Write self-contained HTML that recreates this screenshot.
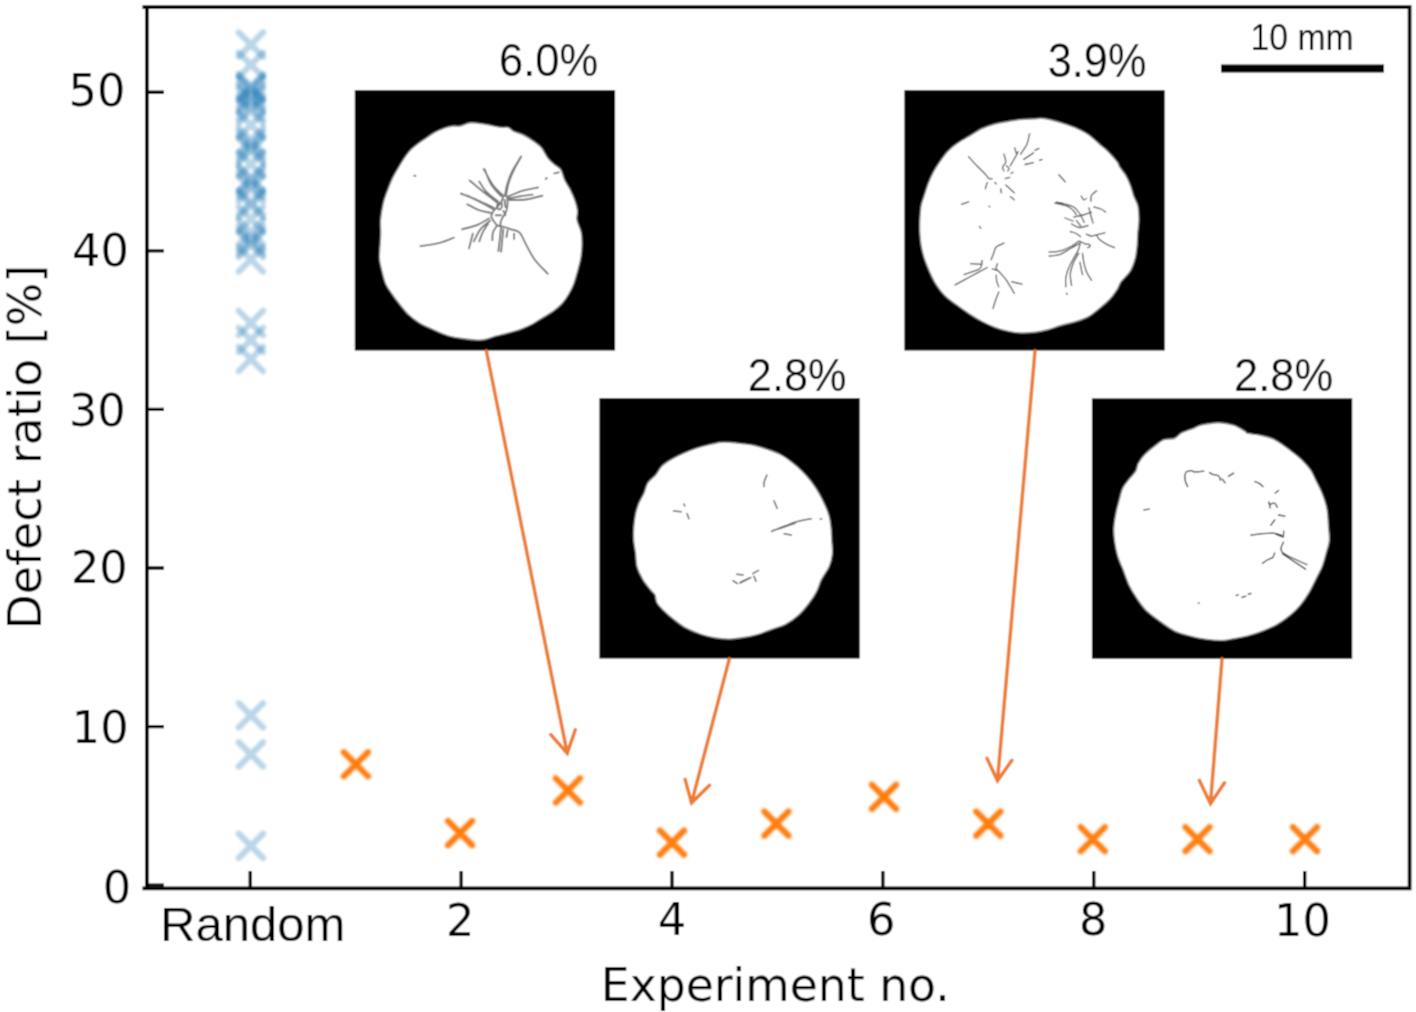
<!DOCTYPE html>
<html><head><meta charset="utf-8"><title>Defect ratio</title>
<style>
html,body{margin:0;padding:0;background:#fff;}
body{width:1416px;height:1012px;overflow:hidden;}
svg{display:block;}
.dv{font-family:"DejaVu Sans",sans-serif;fill:#000;}
.ls{font-family:"Liberation Sans",Arial,sans-serif;fill:#000;}
</style></head><body>
<svg width="1416" height="1012" viewBox="0 0 1416 1012">
<defs><filter id="gb" x="0" y="0" width="1416" height="1012" filterUnits="userSpaceOnUse"><feConvolveMatrix order="3" kernelMatrix="1 2 1 2 6 2 1 2 1" divisor="18" edgeMode="duplicate"/></filter></defs>
<g filter="url(#gb)">
<rect width="1416" height="1012" fill="#fff"/>
<path d="M142.5,7.2H1411.45M142.5,888.4H1411.45M146.9,7.2V888.4M1409.6,7.2V888.4" fill="none" stroke="#000" stroke-width="3.7"/>
<path d="M146.9,885.15H164M146.9,726.57H164M146.9,567.99H164M146.9,409.41H164M146.9,250.83H164M146.9,92.25H164M250.2,888.4V871M461.1,888.4V871M672,888.4V871M882.9,888.4V871M1093.8,888.4V871M1304.7,888.4V871" stroke="#000" stroke-width="3.3" fill="none"/>
<text transform="matrix(1.0400,0,0,1.0400,125.38,106.22)" class="dv" font-size="43" text-anchor="end">50</text>
<text transform="matrix(1.0400,0,0,1.0400,128.87,266.22)" class="dv" font-size="43" text-anchor="end">40</text>
<text transform="matrix(1.0400,0,0,1.0400,125.78,426.22)" class="dv" font-size="43" text-anchor="end">30</text>
<text transform="matrix(1.0400,0,0,1.0400,127.8,583.22)" class="dv" font-size="43" text-anchor="end">20</text>
<text transform="matrix(1.0400,0,0,1.0400,128.66,743.02)" class="dv" font-size="43" text-anchor="end">10</text>
<text transform="matrix(1.0400,0,0,1.0400,131.24,902.82)" class="dv" font-size="43" text-anchor="end">0</text>
<text transform="matrix(1.0400,0,0,1.0400,460.19,935.72)" class="dv" font-size="43" text-anchor="middle">2</text>
<text transform="matrix(1.0400,0,0,1.0400,671.92,935.42)" class="dv" font-size="43" text-anchor="middle">4</text>
<text transform="matrix(1.0400,0,0,1.0400,881.1,935.47)" class="dv" font-size="43" text-anchor="middle">6</text>
<text transform="matrix(1.0400,0,0,1.0400,1093.25,935.47)" class="dv" font-size="43" text-anchor="middle">8</text>
<text transform="matrix(1.0400,0,0,1.0400,1302.38,935.87)" class="dv" font-size="43" text-anchor="middle">10</text>
<text transform="matrix(1.0218,0,0,0.9829,160.11,940.9)" class="ls" font-size="48" text-anchor="start">Random</text>
<text transform="matrix(1.0382,0,0,1.0442,775.27,1001.1)" class="dv" font-size="44" text-anchor="middle">Experiment no.</text>
<text transform="matrix(1.06,0,0,1.04,41.02,447.2) rotate(-90)" class="dv" font-size="44" text-anchor="middle">Defect ratio [%]</text>
<text transform="matrix(0.9776,0,0,1.0581,499.04,75.6)" class="ls" font-size="44.5" text-anchor="start">6.0%</text>
<text transform="matrix(0.9724,0,0,1.0581,747.86,391.1)" class="ls" font-size="44.5" text-anchor="start">2.8%</text>
<text transform="matrix(0.9724,0,0,1.0774,1047.76,76.5)" class="ls" font-size="44.5" text-anchor="start">3.9%</text>
<text transform="matrix(0.9786,0,0,1.0581,1234.04,391)" class="ls" font-size="44.5" text-anchor="start">2.8%</text>
<text transform="matrix(0.9939,0,0,1.0870,1250.42,49.8)" class="ls" font-size="34" text-anchor="start">10 mm</text>
<defs><filter id="sb" x="-30%" y="-5%" width="160%" height="110%"><feGaussianBlur stdDeviation="1.1"/></filter><filter id="sb2" x="-10%" y="-10%" width="120%" height="120%"><feGaussianBlur stdDeviation="0.85"/></filter></defs>
<g filter="url(#sb)">
<path d="M238.8,32.5L263,56.7M238.8,56.7L263,32.5" stroke="#1f77b4" stroke-opacity="0.3" stroke-width="6.2" stroke-linecap="round" fill="none"/>
<path d="M238.8,52.7L263,76.9M238.8,76.9L263,52.7" stroke="#1f77b4" stroke-opacity="0.3" stroke-width="6.2" stroke-linecap="round" fill="none"/>
<path d="M238.8,73.9L263,98.1M238.8,98.1L263,73.9" stroke="#1f77b4" stroke-opacity="0.3" stroke-width="6.2" stroke-linecap="round" fill="none"/>
<path d="M238.8,75.9L263,100.1M238.8,100.1L263,75.9" stroke="#1f77b4" stroke-opacity="0.3" stroke-width="6.2" stroke-linecap="round" fill="none"/>
<path d="M238.8,77.9L263,102.1M238.8,102.1L263,77.9" stroke="#1f77b4" stroke-opacity="0.3" stroke-width="6.2" stroke-linecap="round" fill="none"/>
<path d="M238.8,82.9L263,107.1M238.8,107.1L263,82.9" stroke="#1f77b4" stroke-opacity="0.3" stroke-width="6.2" stroke-linecap="round" fill="none"/>
<path d="M238.8,85.9L263,110.1M238.8,110.1L263,85.9" stroke="#1f77b4" stroke-opacity="0.3" stroke-width="6.2" stroke-linecap="round" fill="none"/>
<path d="M238.8,88.9L263,113.1M238.8,113.1L263,88.9" stroke="#1f77b4" stroke-opacity="0.3" stroke-width="6.2" stroke-linecap="round" fill="none"/>
<path d="M238.8,94.9L263,119.1M238.8,119.1L263,94.9" stroke="#1f77b4" stroke-opacity="0.3" stroke-width="6.2" stroke-linecap="round" fill="none"/>
<path d="M238.8,98.9L263,123.1M238.8,123.1L263,98.9" stroke="#1f77b4" stroke-opacity="0.3" stroke-width="6.2" stroke-linecap="round" fill="none"/>
<path d="M238.8,112.9L263,137.1M238.8,137.1L263,112.9" stroke="#1f77b4" stroke-opacity="0.3" stroke-width="6.2" stroke-linecap="round" fill="none"/>
<path d="M238.8,127.9L263,152.1M238.8,152.1L263,127.9" stroke="#1f77b4" stroke-opacity="0.3" stroke-width="6.2" stroke-linecap="round" fill="none"/>
<path d="M238.8,131.9L263,156.1M238.8,156.1L263,131.9" stroke="#1f77b4" stroke-opacity="0.3" stroke-width="6.2" stroke-linecap="round" fill="none"/>
<path d="M238.8,135.9L263,160.1M238.8,160.1L263,135.9" stroke="#1f77b4" stroke-opacity="0.3" stroke-width="6.2" stroke-linecap="round" fill="none"/>
<path d="M238.8,138.9L263,163.1M238.8,163.1L263,138.9" stroke="#1f77b4" stroke-opacity="0.3" stroke-width="6.2" stroke-linecap="round" fill="none"/>
<path d="M238.8,151.9L263,176.1M238.8,176.1L263,151.9" stroke="#1f77b4" stroke-opacity="0.3" stroke-width="6.2" stroke-linecap="round" fill="none"/>
<path d="M238.8,165.9L263,190.1M238.8,190.1L263,165.9" stroke="#1f77b4" stroke-opacity="0.3" stroke-width="6.2" stroke-linecap="round" fill="none"/>
<path d="M238.8,167.9L263,192.1M238.8,192.1L263,167.9" stroke="#1f77b4" stroke-opacity="0.3" stroke-width="6.2" stroke-linecap="round" fill="none"/>
<path d="M238.8,172.9L263,197.1M238.8,197.1L263,172.9" stroke="#1f77b4" stroke-opacity="0.3" stroke-width="6.2" stroke-linecap="round" fill="none"/>
<path d="M238.8,176.9L263,201.1M238.8,201.1L263,176.9" stroke="#1f77b4" stroke-opacity="0.3" stroke-width="6.2" stroke-linecap="round" fill="none"/>
<path d="M238.8,189.9L263,214.1M238.8,214.1L263,189.9" stroke="#1f77b4" stroke-opacity="0.3" stroke-width="6.2" stroke-linecap="round" fill="none"/>
<path d="M238.8,193.5L263,217.7M238.8,217.7L263,193.5" stroke="#1f77b4" stroke-opacity="0.3" stroke-width="6.2" stroke-linecap="round" fill="none"/>
<path d="M238.8,206.9L263,231.1M238.8,231.1L263,206.9" stroke="#1f77b4" stroke-opacity="0.3" stroke-width="6.2" stroke-linecap="round" fill="none"/>
<path d="M238.8,219.9L263,244.1M238.8,244.1L263,219.9" stroke="#1f77b4" stroke-opacity="0.3" stroke-width="6.2" stroke-linecap="round" fill="none"/>
<path d="M238.8,225.9L263,250.1M238.8,250.1L263,225.9" stroke="#1f77b4" stroke-opacity="0.3" stroke-width="6.2" stroke-linecap="round" fill="none"/>
<path d="M238.8,229.9L263,254.1M238.8,254.1L263,229.9" stroke="#1f77b4" stroke-opacity="0.3" stroke-width="6.2" stroke-linecap="round" fill="none"/>
<path d="M238.8,232.9L263,257.1M238.8,257.1L263,232.9" stroke="#1f77b4" stroke-opacity="0.3" stroke-width="6.2" stroke-linecap="round" fill="none"/>
<path d="M238.8,247.4L263,271.6M238.8,271.6L263,247.4" stroke="#1f77b4" stroke-opacity="0.3" stroke-width="6.2" stroke-linecap="round" fill="none"/>
<path d="M238.8,310.9L263,335.1M238.8,335.1L263,310.9" stroke="#1f77b4" stroke-opacity="0.3" stroke-width="6.2" stroke-linecap="round" fill="none"/>
<path d="M238.8,327.9L263,352.1M238.8,352.1L263,327.9" stroke="#1f77b4" stroke-opacity="0.3" stroke-width="6.2" stroke-linecap="round" fill="none"/>
<path d="M238.8,346.9L263,371.1M238.8,371.1L263,346.9" stroke="#1f77b4" stroke-opacity="0.3" stroke-width="6.2" stroke-linecap="round" fill="none"/>
<path d="M238.8,703.2L263,727.4M238.8,727.4L263,703.2" stroke="#1f77b4" stroke-opacity="0.3" stroke-width="6.2" stroke-linecap="round" fill="none"/>
<path d="M238.8,742.3L263,766.5M238.8,766.5L263,742.3" stroke="#1f77b4" stroke-opacity="0.3" stroke-width="6.2" stroke-linecap="round" fill="none"/>
<path d="M238.8,833.8L263,858M238.8,858L263,833.8" stroke="#1f77b4" stroke-opacity="0.3" stroke-width="6.2" stroke-linecap="round" fill="none"/>
</g>
<path d="M343.8,752.2L368,776.4M343.8,776.4L368,752.2M448,821L472.2,845.2M448,845.2L472.2,821M555.8,778.4L580,802.6M555.8,802.6L580,778.4M659.9,830.5L684.1,854.7M659.9,854.7L684.1,830.5M764.3,811.5L788.5,835.7M764.3,835.7L788.5,811.5M871.9,784.8L896.1,809M871.9,809L896.1,784.8M976.2,811.5L1000.4,835.7M976.2,835.7L1000.4,811.5M1080.7,827.1L1104.9,851.3M1080.7,851.3L1104.9,827.1M1185.4,827.1L1209.6,851.3M1185.4,851.3L1209.6,827.1M1292.9,827.1L1317.1,851.3M1292.9,851.3L1317.1,827.1" stroke="#ff7f0e" stroke-width="6.2" stroke-linecap="round" fill="none" filter="url(#sb2)"/>
<rect x="354.8" y="90.2" width="260.3" height="260.3" fill="#000"/>
<path d="M470.6,122.8C474.72,122.5 480.03,123.45 485,124.2C489.97,124.95 496.55,126.78 500.4,127.3C504.25,127.82 505.95,126.67 508.1,127.3C510.25,127.93 510.73,129.82 513.3,131.1C515.87,132.38 520.08,133.28 523.5,135C526.92,136.72 530.8,139.27 533.8,141.4C536.8,143.53 539.15,145.02 541.5,147.8C543.85,150.58 545.75,155.32 547.9,158.1C550.05,160.88 552.25,162.58 554.4,164.5C556.55,166.42 559.1,167.03 560.8,169.6C562.5,172.17 563.1,176.68 564.6,179.9C566.1,183.12 568.08,185.47 569.8,188.9C571.52,192.33 573.62,196.87 574.9,200.5C576.18,204.13 577.15,207.45 577.5,210.7C577.85,213.95 576.37,216.32 577,220C577.63,223.68 580.47,228.52 581.3,232.8C582.13,237.08 582.1,241.42 582,245.7C581.9,249.98 581.45,254.22 580.7,258.5C579.95,262.78 578.68,267.12 577.5,271.4C576.32,275.68 575.1,280.35 573.6,284.2C572.1,288.05 570.42,291.28 568.5,294.5C566.58,297.72 564.67,300.72 562.1,303.5C559.53,306.28 556.32,308.85 553.1,311.2C549.88,313.55 546.23,315.47 542.8,317.6C539.37,319.73 536.13,322.07 532.5,324C528.87,325.93 525.07,327.7 521,329.2C516.93,330.7 512.38,331.83 508.1,333C503.82,334.17 499.15,335.12 495.3,336.2C491.45,337.28 488.05,338.85 485,339.5C481.95,340.15 480.47,340.22 477,340.1C473.53,339.98 469.12,339.55 464.2,338.8C459.28,338.05 452.85,337.2 447.5,335.6C442.15,334 436.82,331.33 432.1,329.2C427.38,327.07 423.07,325.15 419.2,322.8C415.33,320.45 412.1,318.1 408.9,315.1C405.7,312.1 402.77,308.23 400,304.8C397.23,301.37 394.67,297.93 392.3,294.5C389.93,291.07 387.52,288.05 385.8,284.2C384.08,280.35 383.07,275.68 382,271.4C380.93,267.12 379.73,262.78 379.4,258.5C379.07,254.22 379.78,249.98 380,245.7C380.22,241.42 380.62,237.08 380.7,232.8C380.78,228.52 380.07,224.97 380.5,220C380.93,215.03 382.2,207.75 383.3,203C384.4,198.25 385.6,195.57 387.1,191.5C388.6,187.43 390.37,182.67 392.3,178.6C394.23,174.53 396.57,170.73 398.7,167.1C400.83,163.47 402.97,159.8 405.1,156.8C407.23,153.8 409.15,151.45 411.5,149.1C413.85,146.75 416.63,144.63 419.2,142.7C421.77,140.77 424.33,139.22 426.9,137.5C429.47,135.78 431.6,134 434.6,132.4C437.6,130.8 441.9,128.97 444.9,127.9C447.9,126.83 450.03,126.32 452.6,126C455.17,125.68 457.3,126.53 460.3,126C463.3,125.47 466.48,123.1 470.6,122.8Z" fill="#fff" stroke="#8a8a8a" stroke-width="1.4"/>
<path d="M506,195.7C506.45,193.52 507.35,186.95 508.7,182.6C510.05,178.25 512.02,173.95 514.1,169.6C516.18,165.25 520.02,158.68 521.2,156.5M504.9,195.7C505.27,193.88 505.92,188.8 507.1,184.8C508.28,180.8 509.73,176.32 512,171.7C514.27,167.08 519.25,159.53 520.7,157.1M507.6,196.7C509.78,195.8 515.63,192.83 520.7,191.3C525.77,189.77 535.12,188.13 538,187.5M508.7,198.4C510.7,198.03 516.72,196.83 520.7,196.2C524.68,195.57 530.62,194.87 532.6,194.6M509.2,200C512.02,199.92 520.57,200.22 526.1,199.5C531.63,198.78 539.68,196.33 542.4,195.7M503.3,195.7C501.67,194.07 496.77,190.35 493.5,185.9C490.23,181.45 485.33,171.82 483.7,169M501.1,196.2C499.47,194.3 494.02,189.23 491.3,184.8C488.58,180.37 485.88,172.13 484.8,169.6M497.8,201.1C495.82,199.47 488.98,194.57 485.9,191.3C482.82,188.03 480.4,183.13 479.3,181.5M496.7,202.2C494.35,200.38 487.12,194.93 482.6,191.3C478.08,187.67 471.77,182.22 469.6,180.4M493.5,207.6C490.78,206.33 482.63,202.35 477.2,200C471.77,197.65 463.62,194.58 460.9,193.5M493.5,209.2C491.32,208.03 484.75,204.45 480.4,202.2C476.05,199.95 469.57,196.78 467.4,195.7M491.3,213C489.13,212.47 482.28,211.25 478.3,209.8C474.32,208.35 469.22,205.22 467.4,204.3M489.1,218.5C487.12,219.58 481.72,223.2 477.2,225C472.68,226.8 464.53,228.58 462,229.3M490.2,220.7C488.57,222.13 483.12,225.87 480.4,229.3C477.68,232.73 474.98,239.3 473.9,241.3M472.8,233.7L469,248.4M488,223.9C487.1,225.35 484.05,229.7 482.6,232.6C481.15,235.5 479.85,239.85 479.3,241.3M496.7,226.1C496.07,227.18 493.62,230.25 492.9,232.6C492.18,234.95 492.48,238.93 492.4,240.2M501.1,226.1C500.92,227.92 500.45,232.83 500,237C499.55,241.17 498.67,248.75 498.4,251.1M503.3,229.3C503.12,231.12 502.57,236.48 502.2,240.2C501.83,243.92 501.28,249.7 501.1,251.6M501.1,226.1C502.73,226.63 507.82,228.22 510.9,229.3C513.98,230.38 517.07,230.05 519.6,232.6C522.13,235.15 523.57,240.07 526.1,244.6C528.63,249.13 531.2,254.95 534.8,259.8C538.4,264.65 545.55,271.38 547.7,273.7M514.1,233.7L514.1,239.1M507.6,230.4L506.5,237M507.1,196.7C507.18,197.97 507.78,201.75 507.6,204.3C507.42,206.85 506.72,210 506,212C505.28,214 504.12,214.85 503.3,216.3C502.48,217.75 501.65,219.07 501.1,220.7C500.55,222.33 500.18,225.2 500,226.1M503.3,196.7C502.93,197.62 502.02,200.57 501.1,202.2C500.18,203.83 499.07,205.05 497.8,206.5C496.53,207.95 494.58,209.27 493.5,210.9C492.42,212.53 491.3,214.67 491.3,216.3C491.3,217.93 492.6,219.25 493.5,220.7C494.4,222.15 495.62,224.1 496.7,225C497.78,225.9 499.45,225.92 500,226.1M498,203C498.5,202.92 500.33,202.08 501,202.5C501.67,202.92 502.08,204.42 502,205.5C501.92,206.58 501.17,208.42 500.5,209C499.83,209.58 498.58,209.5 498,209C497.42,208.5 497,207 497,206C497,205 497.83,203.5 498,203M503.3,210.9L505.4,215.2M495.7,215.2L501.1,215.2M504.5,200L505.5,207M545.7,178.8L546.9,178.2M554.3,173.4L558.7,172.3M420.5,246.2C423.72,245.65 434.23,244.32 439.8,242.9C445.37,241.48 451.55,238.57 453.9,237.7M414.2,175.6L415.4,175.9" fill="none" stroke="#7a7a7a" stroke-width="1.9" stroke-linecap="round" stroke-linejoin="round"/>
<rect x="599.4" y="398.2" width="260.3" height="260.3" fill="#000"/>
<path d="M721,442.3C724.47,441.87 725.53,442.08 729,442.3C732.47,442.52 737.52,443.07 741.8,443.6C746.08,444.13 750.42,444.53 754.7,445.5C758.98,446.47 763.22,447.9 767.5,449.4C771.78,450.9 776.33,452.37 780.4,454.5C784.47,456.63 788.27,459.42 791.9,462.2C795.53,464.98 798.98,467.98 802.2,471.2C805.42,474.42 808.42,477.85 811.2,481.5C813.98,485.15 816.55,489.03 818.9,493.1C821.25,497.17 823.58,502.05 825.3,505.9C827.02,509.75 828.23,512.52 829.2,516.2C830.17,519.88 830.67,523.9 831.1,528C831.53,532.1 831.58,536.52 831.8,540.8C832.02,545.08 832.83,549.42 832.4,553.7C831.97,557.98 831.02,562.22 829.2,566.5C827.38,570.78 823.65,575.12 821.5,579.4C819.35,583.68 818.45,588.13 816.3,592.2C814.15,596.27 811.58,599.95 808.6,603.8C805.62,607.65 802.25,611.88 798.4,615.3C794.55,618.72 790,621.93 785.5,624.3C781,626.67 776.1,627.78 771.4,629.5C766.7,631.22 762.23,633.22 757.3,634.6C752.37,635.98 746.52,637.05 741.8,637.8C737.08,638.55 733.53,639.1 729,639.1C724.47,639.1 719.13,638.55 714.6,637.8C710.07,637.05 706.52,636.2 701.8,634.6C697.08,633 691.02,630.77 686.3,628.2C681.58,625.63 677.35,622.2 673.5,619.2C669.65,616.2 665.98,612.98 663.2,610.2C660.42,607.42 658.18,605.07 656.8,602.5C655.42,599.93 655.97,596.93 654.9,594.8C653.83,592.67 652.43,592.27 650.4,589.7C648.37,587.13 644.95,583.27 642.7,579.4C640.45,575.53 638.08,570.78 636.9,566.5C635.72,562.22 636.13,557.98 635.6,553.7C635.07,549.42 634.02,545.08 633.7,540.8C633.38,536.52 633.38,532.53 633.7,528C634.02,523.47 634.75,517.72 635.6,513.6C636.45,509.48 637.4,506.72 638.8,503.3C640.2,499.88 642.5,496.52 644,493.1C645.5,489.68 645.88,485.8 647.8,482.8C649.72,479.8 653.15,477.88 655.5,475.1C657.85,472.32 659.33,468.67 661.9,466.1C664.47,463.53 667.25,461.85 670.9,459.7C674.55,457.55 679.52,455.13 683.8,453.2C688.08,451.27 692.53,449.48 696.6,448.1C700.67,446.72 704.13,445.87 708.2,444.9C712.27,443.93 717.53,442.73 721,442.3Z" fill="#fff" stroke="#8a8a8a" stroke-width="1.4"/>
<path d="M673.5,511L681.2,511.7M683.8,504L684.8,505.9M687,513.6L688.9,518.7M766.9,475.1C766.47,476.17 764.8,479.58 764.3,481.5C763.8,483.42 763.97,485.75 763.9,486.6M774,500.8L777.2,508.5M771.5,531.5C773.83,530.55 781.45,527.38 785.5,525.8C789.55,524.22 791.52,523.18 795.8,522C800.08,520.82 808.63,519.25 811.2,518.7M773,530.5C775,529.88 781.33,528.02 785,526.8C788.67,525.58 793.33,523.8 795,523.2M820.2,518.7L821.5,519M784.2,533.8L791.3,535.1M732.9,580.7L737.3,583.5M736.7,574.2L743.1,574.9M739.9,583.2C740.75,582.75 743.18,581.45 745,580.5C746.82,579.55 749.83,578 750.8,577.5M740.5,582.2L749,578.2M752.8,573.6L758.5,570.4M754,576.2L756,581.3" fill="none" stroke="#666666" stroke-width="1.5" stroke-linecap="round" stroke-linejoin="round"/>
<rect x="904.4" y="90.2" width="260.3" height="260.3" fill="#000"/>
<path d="M1020.6,119.5C1025.13,119.07 1031.53,119.1 1035,118.9C1038.47,118.7 1038.18,117.98 1041.4,118.3C1044.62,118.62 1050.02,119.73 1054.3,120.8C1058.58,121.87 1062.82,123.2 1067.1,124.7C1071.38,126.2 1076.35,128.08 1080,129.8C1083.65,131.52 1085.8,132.65 1089,135C1092.2,137.35 1096,141.12 1099.2,143.9C1102.4,146.68 1105.2,148.7 1108.2,151.7C1111.2,154.7 1115.27,159.33 1117.2,161.9C1119.13,164.47 1118.3,164.73 1119.8,167.1C1121.3,169.47 1124.38,172.9 1126.2,176.1C1128.02,179.3 1129.42,182.88 1130.7,186.3C1131.98,189.72 1132.72,193.38 1133.9,196.6C1135.08,199.82 1136.95,201.7 1137.8,205.6C1138.65,209.5 1139,215.47 1139,220C1139,224.53 1138.12,228.52 1137.8,232.8C1137.48,237.08 1137.53,241.42 1137.1,245.7C1136.67,249.98 1136.37,254.22 1135.2,258.5C1134.03,262.78 1132.45,267.53 1130.1,271.4C1127.75,275.27 1123.25,278.7 1121.1,281.7C1118.95,284.7 1119.13,286.42 1117.2,289.4C1115.27,292.38 1112.5,296.4 1109.5,299.6C1106.5,302.8 1102.62,305.82 1099.2,308.6C1095.78,311.38 1092.85,314.15 1089,316.3C1085.15,318.45 1080.82,319.97 1076.1,321.5C1071.38,323.03 1065.42,324.12 1060.7,325.5C1055.98,326.88 1052.08,328.67 1047.8,329.8C1043.52,330.93 1039.53,331.77 1035,332.3C1030.47,332.83 1025.13,333.2 1020.6,333C1016.07,332.8 1012.08,332.05 1007.8,331.1C1003.52,330.15 999.18,328.9 994.9,327.3C990.62,325.7 986.38,323.75 982.1,321.5C977.82,319.25 973.48,316.58 969.2,313.8C964.92,311.02 960.47,307.8 956.4,304.8C952.33,301.8 948.23,299.23 944.8,295.8C941.37,292.37 938.37,288.27 935.8,284.2C933.23,280.13 931.32,275.68 929.4,271.4C927.48,267.12 925.68,262.78 924.3,258.5C922.92,254.22 921.85,249.98 921.1,245.7C920.35,241.42 920.02,237.08 919.8,232.8C919.58,228.52 919.58,224.53 919.8,220C920.02,215.47 920.35,209.72 921.1,205.6C921.85,201.48 923.13,198.93 924.3,195.3C925.47,191.67 926.6,187.65 928.1,183.8C929.6,179.95 931.37,175.85 933.3,172.2C935.23,168.55 937.35,165.32 939.7,161.9C942.05,158.48 944.62,154.7 947.4,151.7C950.18,148.7 952.77,146.48 956.4,143.9C960.03,141.32 964.92,138.77 969.2,136.2C973.48,133.63 977.82,130.53 982.1,128.5C986.38,126.47 990.62,125.17 994.9,124C999.18,122.83 1003.52,122.25 1007.8,121.5C1012.08,120.75 1016.07,119.93 1020.6,119.5Z" fill="#fff" stroke="#8a8a8a" stroke-width="1.4"/>
<path d="M1056.4,202.2C1057.83,202.5 1062.05,203.15 1065,204C1067.95,204.85 1071.6,205.63 1074.1,207.3C1076.6,208.97 1078.32,211.48 1080,214C1081.68,216.52 1083.5,221 1084.2,222.4M1074,217C1075.5,216.67 1080.08,215.77 1083,215C1085.92,214.23 1090.08,212.83 1091.5,212.4M1071.5,224C1072.75,224.58 1076.25,227.25 1079,227.5C1081.75,227.75 1086.5,225.83 1088,225.5M1089,208C1089.33,209.33 1090.33,213.5 1091,216C1091.67,218.5 1092.67,221.83 1093,223M1094,207C1095.17,207.33 1099.08,208.17 1101,209C1102.92,209.83 1104.75,211.5 1105.5,212M1065,218L1073,221M968.6,156.8C969.98,158.3 974.23,163.02 976.9,165.8C979.57,168.58 982.57,171.37 984.6,173.5C986.63,175.63 987.82,177.75 989.1,178.6C990.38,179.45 991.77,178.6 992.3,178.6M1029.6,133.7C1029.17,135.4 1028.5,140.48 1027,143.9C1025.5,147.32 1021.67,152.48 1020.6,154.2M1003.9,154.2C1004.22,155.48 1006.02,159.75 1005.8,161.9C1005.58,164.05 1002.92,165.6 1002.6,167.1C1002.28,168.6 1003.68,170.27 1003.9,170.9M1006.5,165.8C1006.92,166.23 1008.78,167.55 1009,168.4C1009.22,169.25 1008,170.48 1007.8,170.9M1010.3,165.8C1011.17,164.3 1014.22,159.15 1015.5,156.8C1016.78,154.45 1017.58,152.55 1018,151.7M1014.8,147.8L1016.1,152.9M1023.8,159.4L1033.5,152.9M1025.1,164.5L1033.5,162.6M1005.2,178.6L1009.7,177.3M1011,173.5L1012.9,172.2M987.2,182.5L985.3,188.9M994.9,182.5L996.2,183.8M1000.7,188.9L1001.3,192.8M1005.8,185.1L1014.2,192.8M1010.3,196.6L1014.2,199.8M961.5,204.3L968.6,201.8M989.1,206.2L989.8,206.9M1035,150.4L1038.9,148.4M1039.5,160.4L1042.1,159.4M1058.8,174.8L1065.2,181.8M1081.2,196C1081.63,196.63 1082.93,199.38 1083.8,199.8C1084.67,200.22 1085.97,198.72 1086.4,198.5M1090.9,201.1C1091,200.13 1090.53,197.02 1091.5,195.3C1092.47,193.58 1095.83,191.55 1096.7,190.8M1054.9,203C1056.93,203.53 1064,204.92 1067.1,206.2C1070.2,207.48 1072,209.3 1073.5,210.7C1075,212.1 1075.67,213.95 1076.1,214.6M1076.4,220.6L1080.6,225.8M1070.3,231.6C1071.27,231.92 1074.38,232.65 1076.1,233.5C1077.82,234.35 1079.85,236.17 1080.6,236.7M1086.4,234.1C1087.25,234.43 1089.78,235.98 1091.5,236.1C1093.22,236.22 1094.45,235.35 1096.7,234.8C1098.95,234.25 1103.62,233.13 1105,232.8M1096.7,234.8C1097.12,235.55 1097.5,237.7 1099.2,239.3C1100.9,240.9 1104.33,243.02 1106.9,244.4C1109.47,245.78 1113.32,247.07 1114.6,247.6M1049.1,252.1C1051.03,251.88 1056.83,251.87 1060.7,250.8C1064.57,249.73 1069.3,247.3 1072.3,245.7C1075.3,244.1 1077.63,241.95 1078.7,241.2M1049.1,256C1050.82,255.78 1055.75,255.98 1059.4,254.7C1063.05,253.42 1067.37,250.33 1071,248.3C1074.63,246.27 1079.5,243.47 1081.2,242.5M1079.3,241.2C1080.27,241.63 1083.48,243.27 1085.1,243.8C1086.72,244.33 1088.15,243.98 1089,244.4C1089.85,244.82 1090.42,245.77 1090.2,246.3C1089.98,246.83 1088.12,247.38 1087.7,247.6M1080,244.4C1079.67,245.47 1079.08,248.45 1078,250.8C1076.92,253.15 1075.1,255.5 1073.5,258.5C1071.9,261.5 1069.68,265.58 1068.4,268.8C1067.12,272.02 1066.23,274.8 1065.8,277.8C1065.37,280.8 1065.8,285.3 1065.8,286.8M1078.7,253.4C1077.83,254.9 1074.9,258.98 1073.5,262.4C1072.1,265.82 1070.62,270.05 1070.3,273.9C1069.98,277.75 1071.38,283.57 1071.6,285.5M1082.5,253.4C1082.72,254.9 1083.15,259.4 1083.8,262.4C1084.45,265.4 1085.12,268.4 1086.4,271.4C1087.68,274.4 1090.65,278.9 1091.5,280.4M1080,262.4C1080.2,263.47 1080.78,266.77 1081.2,268.8C1081.62,270.83 1082.28,273.63 1082.5,274.6M1066.5,293.2L1067.1,294.5M1003.9,243.1C1002.62,243.75 997.92,245.28 996.2,247C994.48,248.72 994.45,251.27 993.6,253.4C992.75,255.53 991.52,258.73 991.1,259.8M970.5,263.7L982.1,264.3M982.1,260.5C981.88,261.67 981.67,265.9 980.8,267.5C979.93,269.1 979.68,268.92 976.9,270.1C974.12,271.28 966.23,273.85 964.1,274.6M955.1,284.9C957.45,283.62 963.85,280.1 969.2,277.2C974.55,274.3 984.2,269.12 987.2,267.5M997.5,263.7C997.28,264.55 995.77,267.3 996.2,268.8C996.63,270.3 998.38,270.77 1000.1,272.7C1001.82,274.63 1004.15,276.98 1006.5,280.4C1008.85,283.82 1012.92,291.07 1014.2,293.2M992.3,268.8L997.5,270.7M996.2,275.2C996.3,276.28 996.37,279.77 996.8,281.7C997.23,283.63 998.47,285.95 998.8,286.8M998.8,291.9C998.15,293.62 995.87,299.42 994.9,302.2C993.93,304.98 993.32,307.53 993,308.6M1011.6,281.7L1021.9,284.2M979.5,226.4L980.8,228.3" fill="none" stroke="#555555" stroke-width="1.3" stroke-linecap="round" stroke-linejoin="round"/>
<rect x="1091.9" y="398.4" width="260.3" height="260.3" fill="#000"/>
<path d="M1214,423C1217.47,422.67 1218.53,422.57 1222,423C1225.47,423.43 1230.95,424.2 1234.8,425.6C1238.65,427 1242.95,430.12 1245.1,431.4C1247.25,432.68 1245.13,432.65 1247.7,433.3C1250.27,433.95 1256.22,434.33 1260.5,435.3C1264.78,436.27 1269.53,437.4 1273.4,439.1C1277.27,440.8 1280.28,443.15 1283.7,445.5C1287.12,447.85 1290.7,450.63 1293.9,453.2C1297.1,455.77 1300.12,458.12 1302.9,460.9C1305.68,463.68 1308.45,466.68 1310.6,469.9C1312.75,473.12 1314.08,476.77 1315.8,480.2C1317.52,483.63 1319.4,487.07 1320.9,490.5C1322.4,493.93 1323.73,497.38 1324.8,500.8C1325.87,504.22 1326.67,506.47 1327.3,511C1327.93,515.53 1328.27,523.03 1328.6,528C1328.93,532.97 1329.73,536.52 1329.3,540.8C1328.87,545.08 1327.18,549.42 1326,553.7C1324.82,557.98 1323.9,562.22 1322.2,566.5C1320.5,570.78 1317.95,575.12 1315.8,579.4C1313.65,583.68 1311.87,587.92 1309.3,592.2C1306.73,596.48 1303.6,601.25 1300.4,605.1C1297.2,608.95 1293.97,612.1 1290.1,615.3C1286.23,618.5 1281.7,621.72 1277.2,624.3C1272.7,626.88 1268.02,628.87 1263.1,630.8C1258.18,632.73 1252.42,634.62 1247.7,635.9C1242.98,637.18 1239.08,637.75 1234.8,638.5C1230.52,639.25 1226.97,640.3 1222,640.4C1217.03,640.5 1210.4,639.85 1205,639.1C1199.6,638.35 1194.73,637.28 1189.6,635.9C1184.47,634.52 1179.33,633.37 1174.2,630.8C1169.07,628.23 1163.52,623.93 1158.8,620.5C1154.08,617.07 1149.53,613.83 1145.9,610.2C1142.27,606.57 1139.77,602.77 1137,598.7C1134.23,594.63 1131.67,590.73 1129.3,585.8C1126.93,580.87 1124.73,574.02 1122.8,569.1C1120.87,564.18 1119.08,561.02 1117.7,556.3C1116.32,551.58 1115.15,545.52 1114.5,540.8C1113.85,536.08 1113.58,532.53 1113.8,528C1114.02,523.47 1114.93,518.13 1115.8,513.6C1116.67,509.07 1117.83,505.08 1119,500.8C1120.17,496.52 1121.08,491.55 1122.8,487.9C1124.52,484.25 1127.15,481.68 1129.3,478.9C1131.45,476.12 1134.22,473.77 1135.7,471.2C1137.18,468.63 1136.7,466.28 1138.2,463.5C1139.7,460.72 1142.12,457.28 1144.7,454.5C1147.28,451.72 1150.5,449.27 1153.7,446.8C1156.9,444.33 1160.48,441.08 1163.9,439.7C1167.32,438.32 1171.2,439.67 1174.2,438.5C1177.2,437.33 1178.9,434.32 1181.9,432.7C1184.9,431.08 1188.98,430.08 1192.2,428.8C1195.42,427.52 1197.57,425.97 1201.2,425C1204.83,424.03 1210.53,423.33 1214,423Z" fill="#fff" stroke="#8a8a8a" stroke-width="1.4"/>
<path d="M1187.7,486.6C1187.27,485.53 1185.42,482.55 1185.1,480.2C1184.78,477.85 1184.73,474.1 1185.8,472.5C1186.87,470.9 1190,470.7 1191.5,470.6C1193,470.5 1192.75,471.8 1194.8,471.9C1196.85,472 1202.3,471.32 1203.8,471.2M1209.5,472.5C1210.03,472.82 1211.2,473.87 1212.7,474.4C1214.2,474.93 1217.2,474.73 1218.5,475.7C1219.8,476.67 1220.17,479.45 1220.5,480.2M1144,509.8L1149.2,509.1M1228.4,476.4L1233.6,473.1M1222,478.9L1225.2,482.8M1254.8,481.5C1255.55,481.82 1257.92,482.55 1259.3,483.4C1260.68,484.25 1262.47,486.07 1263.1,486.6M1275.3,493.1L1278.5,490.5M1268.9,502L1270.2,507.8M1269.5,504.6C1270.37,504.38 1273.42,502.87 1274.7,503.3C1275.98,503.73 1276.78,506.55 1277.2,507.2M1278.5,515L1284.9,516.2M1270.8,525.2L1274.7,520M1250.9,535.1C1252.5,534.88 1256.75,534.13 1260.5,533.8C1264.25,533.47 1269.97,532.88 1273.4,533.1C1276.83,533.32 1279.6,534.45 1281.1,535.1C1282.6,535.75 1282.18,536.68 1282.4,537M1283.7,531.2L1283.4,537M1275.3,533.8L1281.1,536.3M1283.4,542.1C1283.23,543.82 1278.5,548.65 1282.4,552.4C1286.3,556.15 1302.73,562.57 1306.8,564.6M1282.4,553.7L1305.5,569.1M1274.7,553C1274.37,553.75 1273.78,556.42 1272.7,557.5C1271.62,558.58 1269.9,558.53 1268.2,559.5C1266.5,560.47 1263.45,562.67 1262.5,563.3M1236.1,595.6L1238.1,594.8M1241.9,597.4L1245.8,596.1M1248.3,594.2L1250.9,593.5M1198.3,603.1L1199.2,603.1" fill="none" stroke="#383838" stroke-width="1.3" stroke-linecap="round" stroke-linejoin="round"/>
<path d="M486.4,351L567.27,753.34M550.8,734.6L567.27,753.34L575.3,729.7M729.3,659L691.56,802.87M685.1,779.4L691.56,802.87L709.5,785.3M1035,351L997.49,780.81M987,758.3L997.49,780.81L1011.9,760.3M1222,659L1210.47,803.81M1199.3,780.3L1210.47,803.81L1224.5,782.8" fill="none" stroke="#ed7d31" stroke-width="3.5" stroke-linecap="round" stroke-linejoin="miter"/>
<rect x="1221" y="64.5" width="163" height="8" fill="#000"/>
</g>
</svg>
</body></html>
